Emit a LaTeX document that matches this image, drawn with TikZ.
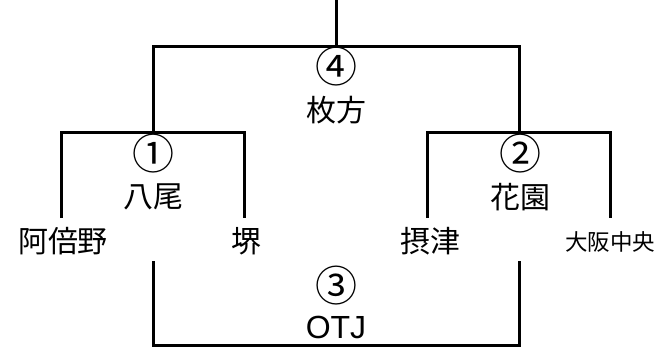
\documentclass[tikz,border=0pt]{standalone}
\usepackage{fontspec}
\setmainfont{Noto Sans CJK JP}
\newfontfamily\latinfont{Liberation Sans}
\tikzset{
  bracket/.style={draw=black, line width=3pt, line join=miter},
  lbl/.style={inner sep=0pt, font=\fontsize{30}{34}\selectfont},
  small/.style={inner sep=0pt, font=\fontsize{22.5}{26}\selectfont},
  num/.style={inner sep=0pt, font=\fontsize{42}{46}\selectfont},
}
\begin{document}
\begin{tikzpicture}[x=1pt,y=-1pt]
\useasboundingbox (0,0) rectangle (659,349);
% labels
\node[num] (n4) at (336,67) {④};
\node[lbl] (hirakata) at (336,110) {枚方};
\node[num] (n1) at (153,154) {①};
\node[lbl] (yao) at (153,197) {八尾};
\node[num] (n2) at (520,154) {②};
\node[lbl] (hanazono) at (520,197) {花園};
\node[lbl] (abeno) at (63,241) {阿倍野};
\node[lbl] (sakai) at (246,241) {堺};
\node[lbl] (settsu) at (430,241) {摂津};
\node[small] (osaka) at (610,242) {大阪中央};
\node[num] (n3) at (336,286) {③};
\node[lbl,font=\latinfont\fontsize{32}{36}\selectfont] (otj) at (336,327) {OTJ};
% bracket points
\coordinate (top) at (336,0);
\coordinate (topm) at (336,46.5);
\coordinate (tl) at (153,46.5);
\coordinate (tr) at (519.5,46.5);
\coordinate (lroot) at (153,132.5);
\coordinate (rroot) at (519.5,132.5);
\coordinate (ll) at (61.5,132.5);
\coordinate (lr) at (244.5,132.5);
\coordinate (lle) at (61.5,218);
\coordinate (lre) at (244.5,218);
\coordinate (rl) at (427.5,132.5);
\coordinate (rr) at (610,132.5);
\coordinate (rle) at (427.5,218);
\coordinate (rre) at (610,218);
\coordinate (bls) at (153,261);
\coordinate (brs) at (519.5,261);
\coordinate (bl) at (153,345.5);
\coordinate (br) at (519.5,345.5);
% connectors
\draw[bracket] (top) -- (topm);
\draw[bracket] (lroot) -- (tl) -- (tr) -- (rroot);
\draw[bracket] (lle) -- (ll) -- (lr) -- (lre);
\draw[bracket] (rle) -- (rl) -- (rr) -- (rre);
\draw[bracket] (bls) -- (bl) -- (br) -- (brs);
\end{tikzpicture}
\end{document}
